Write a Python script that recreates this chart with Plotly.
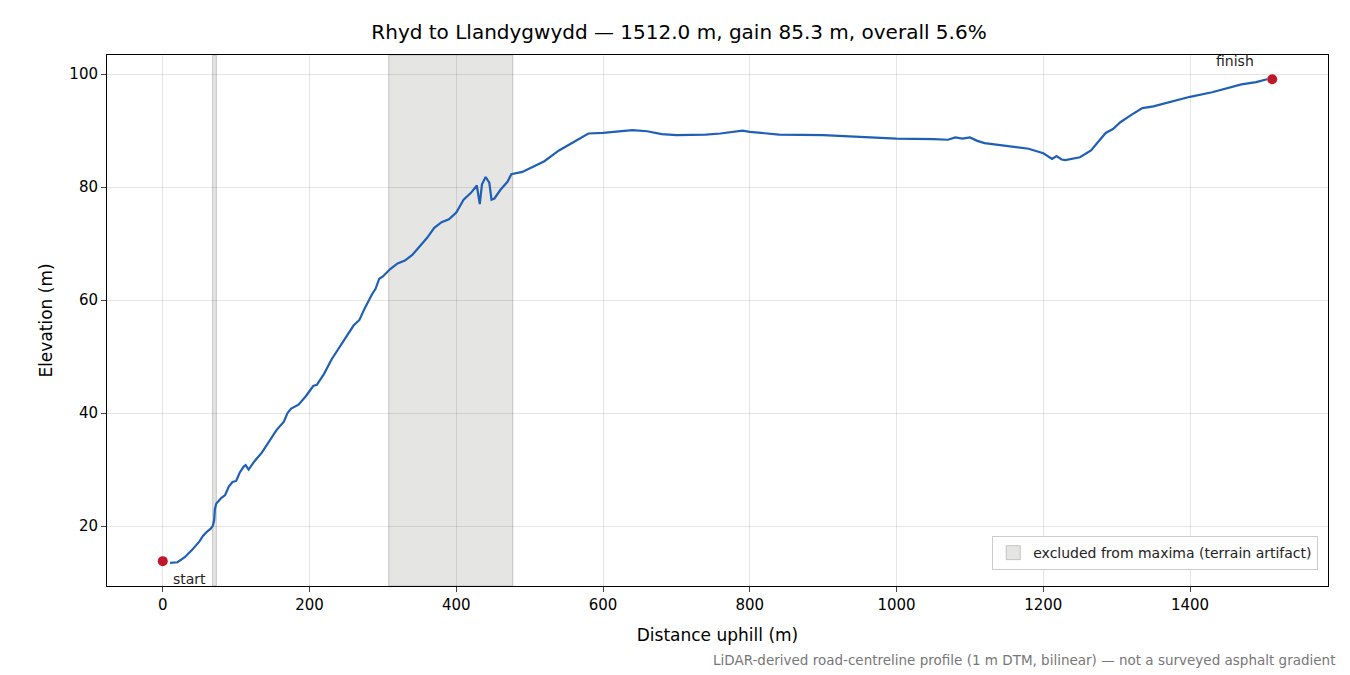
import plotly.graph_objects as go

dist = [10,20,30,40,50,55,60,65,68,70,71,73,80,85,90,95,100,105,110,113,117,125,135,145,155,165,170,175,185,195,205,210,220,230,240,250,260,268,275,285,290,295,300,310,320,330,340,350,360,370,380,390,400,410,420,428,432,435,440,445,448,452,460,470,475,490,500,520,540,560,580,600,620,640,660,680,700,740,760,780,790,800,820,840,900,950,1000,1050,1070,1080,1090,1100,1110,1120,1150,1180,1200,1212,1218,1225,1230,1250,1265,1275,1285,1295,1305,1320,1335,1350,1380,1400,1430,1450,1470,1490,1505]
elev = [13.5,13.6,14.5,15.8,17.3,18.3,19,19.5,20,21,23,24,25,25.5,27,27.8,28,29.5,30.5,30.8,30,31.5,33,35,37,38.5,40,40.8,41.5,43,44.8,45,47,49.5,51.5,53.5,55.5,56.5,58.5,61,62,63.8,64.2,65.5,66.5,67,68,69.5,71,72.8,73.8,74.3,75.5,77.8,79,80.3,77,80.5,81.8,80.8,77.8,78,79.5,81,82.3,82.7,83.3,84.6,86.5,88,89.5,89.6,89.8,90.1,89.9,89.4,89.2,89.3,89.5,89.8,90,89.8,89.5,89.3,89.2,88.9,88.6,88.5,88.4,88.8,88.6,88.8,88.2,87.8,87.3,86.8,86,85,85.5,84.9,84.8,85.3,86.5,88,89.6,90.3,91.5,92.8,94,94.3,95.3,96,96.8,97.5,98.2,98.6,99.1]
excluded = [(68, 73), (308, 477)]
start_pt = (0, 13.8)
finish_pt = (1512, 99.1)
xticks = [0, 200, 400, 600, 800, 1000, 1200, 1400]
yticks = [20, 40, 60, 80, 100]

fig = go.Figure()
for a, b in excluded:
    fig.add_vrect(x0=a, x1=b, fillcolor="rgba(180,180,175,0.35)", line=dict(color="rgba(150,150,150,0.5)", width=1), layer="below")
fig.add_trace(go.Scatter(x=[None], y=[None], mode="markers", marker=dict(symbol="square", size=14, color="rgba(180,180,175,0.35)", line=dict(color="rgba(150,150,150,0.5)", width=1)),
                         name="excluded from maxima (terrain artifact)"))
fig.add_trace(go.Scatter(x=dist, y=elev, mode="lines", line=dict(color="#1f5fb5", width=2.2), showlegend=False))
fig.add_trace(go.Scatter(x=[start_pt[0], finish_pt[0]], y=[start_pt[1], finish_pt[1]], mode="markers",
                         marker=dict(color="#c0182a", size=10), showlegend=False))
fig.add_annotation(x=start_pt[0], y=start_pt[1], text="start", showarrow=False, xanchor="left", yanchor="top", xshift=8, yshift=-8, font=dict(size=14, color="#222"))
fig.add_annotation(x=finish_pt[0], y=finish_pt[1], text="finish", showarrow=False, xanchor="right", yanchor="bottom", xshift=-16, yshift=8, font=dict(size=14, color="#222"))
fig.add_annotation(xref="paper", yref="paper", x=1.007, y=-0.12, text="LiDAR-derived road-centreline profile (1 m DTM, bilinear) — not a surveyed asphalt gradient",
                   showarrow=False, xanchor="right", yanchor="top", font=dict(size=13.5, color="#777"))

ax = dict(showline=True, linecolor="black", mirror=True, ticks="outside", showgrid=True, gridcolor="rgba(0,0,0,0.1)", zeroline=False,
          tickfont=dict(size=15, color="black"), title_font=dict(size=17, color="black"))
fig.update_xaxes(range=[-76, 1588], tickvals=xticks, title_text="Distance uphill (m)", title_standoff=16, **ax)
fig.update_yaxes(range=[9.4, 103.4], tickvals=yticks, title_text="Elevation (m)", title_standoff=12, **ax)
fig.update_layout(
    width=1342, height=667, plot_bgcolor="white", paper_bgcolor="white",
    font=dict(family="DejaVu Sans"),
    margin=dict(l=99, r=22, t=47, b=89),
    title=dict(text="Rhyd to Llandygwydd — 1512.0 m, gain 85.3 m, overall 5.6%", x=0.5, xanchor="center", y=0.975, font=dict(size=20, color="black")),
    legend=dict(x=0.992, y=0.03, xanchor="right", yanchor="bottom", bgcolor="white", bordercolor="#ccc", borderwidth=1, font=dict(size=14, color="#222")),
)
fig.write_html("out.html")
